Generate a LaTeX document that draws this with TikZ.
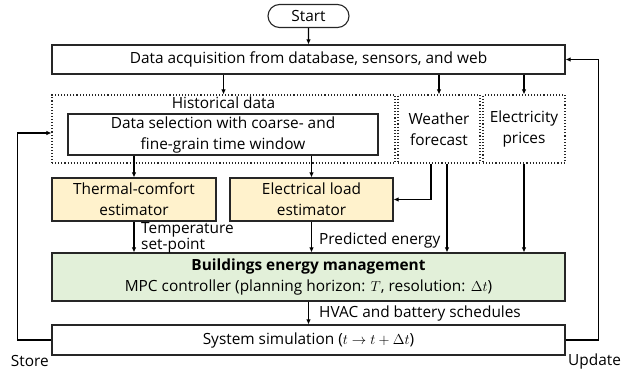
\documentclass[tikz,border=0pt]{standalone}
\usepackage{fontspec}
\setmainfont{Open Sans}
\usetikzlibrary{positioning, arrows.meta, shapes.misc}

\definecolor{estfill}{HTML}{FFF2CC}
\definecolor{bemfill}{HTML}{E2F0D9}
\definecolor{edge}{HTML}{262626}

\begin{document}
\begin{tikzpicture}[
    x=1pt, y=-1pt,
    every node/.style={font=\fontsize{15.4}{21}\selectfont, inner sep=0pt, align=center},
    % plain process steps
    stepbox/.style={draw=edge, line width=1.1pt, minimum width=513pt},
    % dotted frames round the data sources
    srcgroup/.style={draw=edge, line width=1.1pt, dotted, minimum height=68pt},
    % estimators (yellow)
    estbox/.style={draw=edge, line width=1.1pt, fill=estfill, minimum height=43pt},
    % the optimisation block (green)
    bembox/.style={draw=edge, line width=1.1pt, fill=bemfill, minimum width=513pt, minimum height=48pt},
    arrow/.style={-{Latex[length=5pt,width=4.5pt]}, draw=black, line width=1.1pt},
    lbl/.style={align=left, anchor=west}
]
\useasboundingbox (0,0) rectangle (639,369);

\node[draw=edge, line width=1.1pt, rounded rectangle, minimum width=81pt, minimum height=23pt] (start) at (308.5,16) {Start};

\node[stepbox, minimum height=29pt] (acq) at (308.5,59.5) {Data acquisition from database, sensors, and web};

% data sources
\node[srcgroup, minimum width=343pt] (hist) at (223.5,129) {};
\node[srcgroup, minimum width=82pt] (wthr) at (439,129) {Weather\\forecast};
\node[srcgroup, minimum width=82pt] (price) at (524,129) {Electricity\\prices};
\node (histlbl) at (223.5,103) {Historical data};
\node[draw=edge, line width=1.1pt, minimum width=310pt, minimum height=41pt] (sel) at (223,134.5)
    {Data selection with coarse- and\\fine-grain time window};

% estimators
\node[estbox, minimum width=164pt] (therm) at (134,199.5) {Thermal-comfort\\estimator};
\node[estbox, minimum width=163pt] (eload) at (311.5,199.5) {Electrical load\\estimator};

\node[bembox] (bem) at (308.5,277)
    {\textbf{Buildings energy management}\\MPC controller (planning horizon: $T$, resolution: $\Delta t$)};

\node[stepbox, minimum height=30pt] (sim) at (308.5,340) {System simulation ($t \rightarrow t + \Delta t$)};

\draw[arrow] (start) -- (acq);
\draw[arrow] (acq.south -| hist.north) -- (hist.north);
\draw[arrow] (acq.south -| wthr.north) -- (wthr.north);
\draw[arrow] (acq.south -| price.north) -- (price.north);

\draw[arrow] (sel.south -| therm.north) -- (therm.north);
\draw[arrow] (sel.south -| eload.north) -- (eload.north);
\draw[arrow] ([xshift=-8pt]wthr.south) |- (eload.east);
\draw[arrow] ([xshift=8pt]wthr.south) -- ([xshift=8pt]wthr.south |- bem.north);
\draw[arrow] (price.south) -- (price.south |- bem.north);

\draw[arrow] (therm.south) -- (therm.south |- bem.north);
\node[lbl, font=\fontsize{15.4}{14}\selectfont] (tlbl) at (141,238) {Temperature\\set-point};
\draw[arrow] (eload.south) -- (eload.south |- bem.north);
\node[lbl] (elbl) at (319,240) {Predicted energy};

\draw[arrow] (bem.south) -- (sim.north);
\node[lbl] (slbl) at (319,313) {HVAC and battery schedules};

% feedback loops
\draw[arrow] (sim.west) -- ++(-34,0) |- ([yshift=-4pt]hist.west);
\node[anchor=east] (storelbl) at (49,361) {Store};
\draw[arrow] (sim.east) -- ++(33,0) |- (acq.east);
\node[anchor=west] (updlbl) at (568,361) {Update};
\end{tikzpicture}
\end{document}
